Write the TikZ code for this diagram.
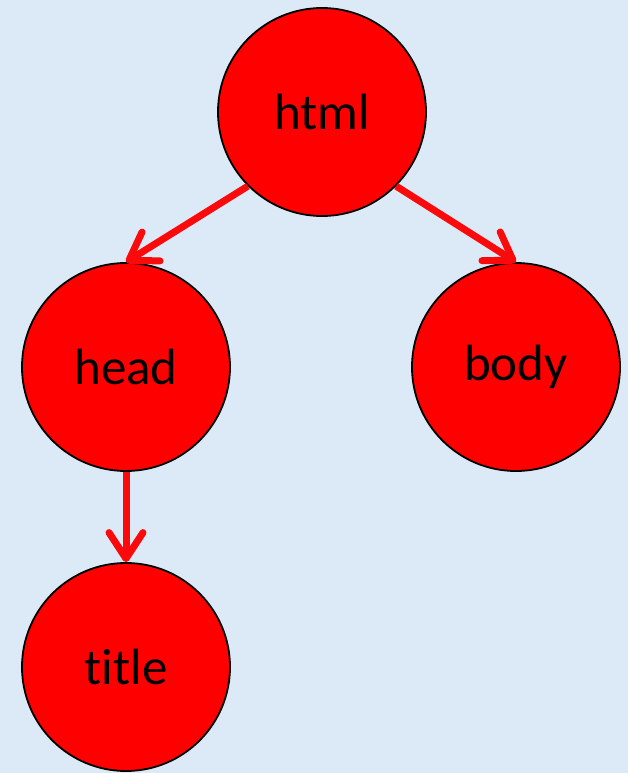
\documentclass[tikz,border=0pt]{standalone}
\usepackage{fontspec}
\setmainfont[Ligatures=NoCommon]{Carlito}
\usetikzlibrary{arrows.meta}
\definecolor{bgblue}{RGB}{220,234,247}
\definecolor{nodered}{RGB}{255,0,0}
\definecolor{arrowred}{RGB}{250,10,10}
\tikzset{
  treenode/.style={circle,draw=black,line width=1.8pt,fill=nodered,minimum size=208pt,inner sep=0pt,font=\fontsize{51}{60}\selectfont},
  treearrow/.style={draw=arrowred,line width=7pt,-{Straight Barb[length=26pt,width=34pt,round]}}
}
\begin{document}
\begin{tikzpicture}[x=1pt,y=1pt]
\fill[bgblue] (0,0) rectangle (628,-773);
\useasboundingbox (0,0) rectangle (628,-773);
\node[treenode] (html) at (322,-112) {html};
\node[treenode] (head) at (126,-367) {head};
\node[treenode] (body) at (516,-367) {body};
\node[treenode] (title) at (126,-667) {title};
\draw[treearrow] (html.south west) -- (head.north);
\draw[treearrow] (html.south east) -- (body.north);
\draw[treearrow] (head.south) -- (title.north);
\end{tikzpicture}
\end{document}
